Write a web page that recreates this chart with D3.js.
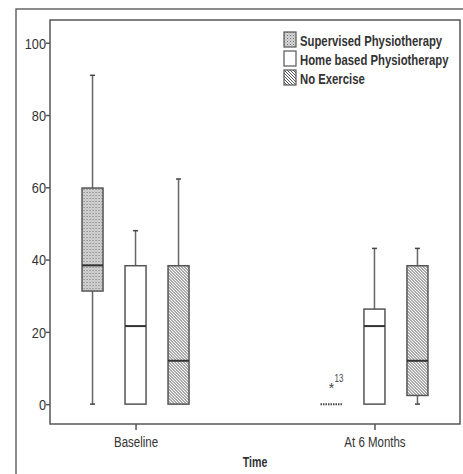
<!DOCTYPE html>
<html>
<head>
<meta charset="utf-8">
<script src="https://cdn.jsdelivr.net/npm/d3@7"></script>
<style>
	body { margin: 0; background: #fff; }
	svg { display: block; }
	text { font-family: "Liberation Sans", Arial, sans-serif; }
</style>
</head>
<body>
<script>
(function(){
	// Data
	let groups = ['Baseline', 'At 6 Months'];
	let series = ['Supervised Physiotherapy', 'Home based Physiotherapy', 'No Exercise'];
	// one array per statistic, [group][series]
	let mins    = [[0, 0, 0], [0, 0, 0]];
	let q1s     = [[31.3, 0, 0], [0, 0, 2.4]];
	let medians = [[38.4, 21.6, 12.0], [0, 21.6, 12.0]];
	let q3s     = [[59.8, 38.3, 38.3], [0, 26.3, 38.3]];
	let maxs    = [[91, 48, 62.3], [0, 43.1, 43.1]];
	let outliers = [{group: 1, series: 0, value: 4.8, label: '13'}];
	let yTicks = [0, 20, 40, 60, 80, 100];

	let width = 463, height = 474,
		plot = {left: 50, top: 20, right: 460, bottom: 424},
		boxWidth = 21,
		capWidth = 5,
		lineColor = '#555';

	let svg = d3.select('body').append('svg')
		.attr('width', width)
		.attr('height', height);

	// The original uses a narrow font; squeeze Liberation Sans horizontally
	function squeeze(sel, x, y, sx){
		sel.attr('x', 0).attr('y', 0)
			.attr('transform', 'translate(' + x + ',' + y + ') scale(' + sx + ',1)');
	}

	// Patterns: stipple for supervised, none for home, hatch for no exercise
	let defs = svg.append('defs');
	let stipple = defs.append('pattern')
		.attr('id', 'stipple')
		.attr('patternUnits', 'userSpaceOnUse')
		.attr('width', 3).attr('height', 3);
	stipple.append('rect').attr('width', 3).attr('height', 3).attr('fill', '#d6d6d6');
	stipple.append('rect').attr('width', 1).attr('height', 1).attr('fill', '#6a6a6a');
	stipple.append('rect').attr('x', 1.5).attr('y', 1.5).attr('width', 1).attr('height', 1).attr('fill', '#9a9a9a');

	let hatch = defs.append('pattern')
		.attr('id', 'hatch')
		.attr('patternUnits', 'userSpaceOnUse')
		.attr('width', 3).attr('height', 3);
	hatch.append('rect').attr('width', 3).attr('height', 3).attr('fill', '#fff');
	hatch.append('path')
		.attr('d', 'M-1,-1 L4,4 M-1,2 L1,4 M2,-1 L4,1')
		.attr('stroke', '#555')
		.attr('stroke-width', 1);

	let fills = ['url(#stipple)', '#fff', 'url(#hatch)'];

	// Outer frame (only left and top visible)
	svg.append('path')
		.attr('d', 'M16,' + height + ' L16,9 L' + width + ',9')
		.attr('fill', 'none')
		.attr('stroke', '#666')
		.attr('stroke-width', 1.5);

	// Scales
	let y = d3.scaleLinear()
		.domain([-5.5, 106.3])
		.range([plot.bottom, plot.top]);
	let x = d3.scalePoint()
		.domain(groups)
		.range([plot.left, plot.right])
		.padding(0.358);
	let xs = d3.scalePoint()
		.domain(series)
		.range([-43, 43]);

	// Plot frame
	svg.append('rect')
		.attr('x', plot.left)
		.attr('y', plot.top)
		.attr('width', plot.right - plot.left)
		.attr('height', plot.bottom - plot.top)
		.attr('fill', 'none')
		.attr('stroke', lineColor)
		.attr('stroke-width', 1.5);

	// Axes
	let yAxis = svg.append('g')
		.attr('transform', 'translate(' + plot.left + ',0)')
		.call(d3.axisLeft(y).tickValues(yTicks).tickSize(4).tickPadding(2));
	let xAxis = svg.append('g')
		.attr('transform', 'translate(0,' + plot.bottom + ')')
		.call(d3.axisBottom(x).tickSize(6).tickPadding(6));
	[yAxis, xAxis].forEach(a => {
		a.select('.domain').remove();
		a.selectAll('.tick line').attr('stroke', lineColor).attr('stroke-width', 1.5);
		a.selectAll('.tick text')
			.attr('font-family', null)
			.attr('fill', '#333');
	});
	yAxis.selectAll('.tick text')
		.attr('font-size', 15)
		.attr('dy', '0.36em')
		.call(squeeze, -4, 0, 0.85);
	xAxis.selectAll('.tick text')
		.attr('font-size', 14)
		.attr('dy', 0)
		.call(squeeze, 0, 23, 0.82);

	// Axis title
	svg.append('text')
		.attr('text-anchor', 'middle')
		.attr('font-weight', 'bold')
		.attr('font-size', 14)
		.attr('fill', '#333')
		.text('Time')
		.call(squeeze, (plot.left + plot.right) / 2, 466.5, 0.76);

	// Build box table from the arrays
	let boxes = [];
	groups.forEach((g, gi) => {
		series.forEach((s, si) => {
			boxes.push({
				group: g, series: s, si: si,
				min: mins[gi][si], q1: q1s[gi][si], median: medians[gi][si],
				q3: q3s[gi][si], max: maxs[gi][si]
			});
		});
	});

	let box_g = svg.selectAll('.box')
		.data(boxes).enter()
		.append('g')
		.attr('class', 'box')
		.attr('transform', d => 'translate(' + (x(d.group) + xs(d.series)) + ',0)');

	// Whiskers
	box_g.filter(d => d.max > d.q3)
		.append('line')
		.attr('y1', d => y(d.q3)).attr('y2', d => y(d.max))
		.attr('stroke', '#666').attr('stroke-width', 1.5);
	box_g.filter(d => d.min < d.q1)
		.append('line')
		.attr('y1', d => y(d.q1)).attr('y2', d => y(d.min))
		.attr('stroke', '#666').attr('stroke-width', 1.5);
	// Caps
	box_g.filter(d => d.max > d.q3)
		.append('line')
		.attr('x1', -capWidth / 2).attr('x2', capWidth / 2)
		.attr('y1', d => y(d.max)).attr('y2', d => y(d.max))
		.attr('stroke', '#444').attr('stroke-width', 1.5);
	box_g.filter(d => d.min < d.q1)
		.append('line')
		.attr('x1', -capWidth / 2).attr('x2', capWidth / 2)
		.attr('y1', d => y(d.min)).attr('y2', d => y(d.min))
		.attr('stroke', '#444').attr('stroke-width', 1.5);

	// Boxes
	box_g.filter(d => d.q3 > d.q1)
		.append('rect')
		.attr('x', -boxWidth / 2)
		.attr('width', boxWidth)
		.attr('y', d => y(d.q3))
		.attr('height', d => y(d.q1) - y(d.q3))
		.attr('fill', d => fills[d.si])
		.attr('stroke', lineColor)
		.attr('stroke-width', 1.5);
	// Medians
	box_g.filter(d => d.q3 > d.q1)
		.append('line')
		.attr('x1', -boxWidth / 2).attr('x2', boxWidth / 2)
		.attr('y1', d => y(d.median)).attr('y2', d => y(d.median))
		.attr('stroke', '#333').attr('stroke-width', 2);
	// Collapsed boxes: dotted line
	box_g.filter(d => d.q3 === d.q1)
		.append('line')
		.attr('x1', -boxWidth / 2 - 0.5).attr('x2', boxWidth / 2 + 0.5)
		.attr('y1', d => y(d.median)).attr('y2', d => y(d.median))
		.attr('stroke', '#444').attr('stroke-width', 2)
		.attr('stroke-dasharray', '1.5,1');

	// Outliers
	let out_g = svg.selectAll('.outlier')
		.data(outliers).enter()
		.append('g')
		.attr('class', 'outlier')
		.attr('transform', d => 'translate(' + (x(groups[d.group]) + xs(series[d.series])) + ',' + y(d.value) + ')');
	out_g.append('text')
		.attr('text-anchor', 'middle')
		.attr('y', 6)
		.attr('font-size', 14)
		.attr('fill', '#444')
		.text('*');
	out_g.append('text')
		.attr('font-size', 10)
		.attr('fill', '#444')
		.text(d => d.label)
		.call(squeeze, 3, -5, 0.8);

	// Legend
	let legend = svg.selectAll('.legend')
		.data(series).enter()
		.append('g')
		.attr('class', 'legend')
		.attr('transform', (d, i) => 'translate(284,' + (32 + i * 19) + ')');
	legend.append('rect')
		.attr('width', 12)
		.attr('height', 15)
		.attr('fill', (d, i) => fills[i])
		.attr('stroke', lineColor)
		.attr('stroke-width', 1.2);
	legend.append('text')
		.attr('font-weight', 'bold')
		.attr('font-size', 15)
		.attr('fill', '#333')
		.text(d => d)
		.call(squeeze, 16, 13.5, 0.755);
})();
</script>
</body>
</html>
